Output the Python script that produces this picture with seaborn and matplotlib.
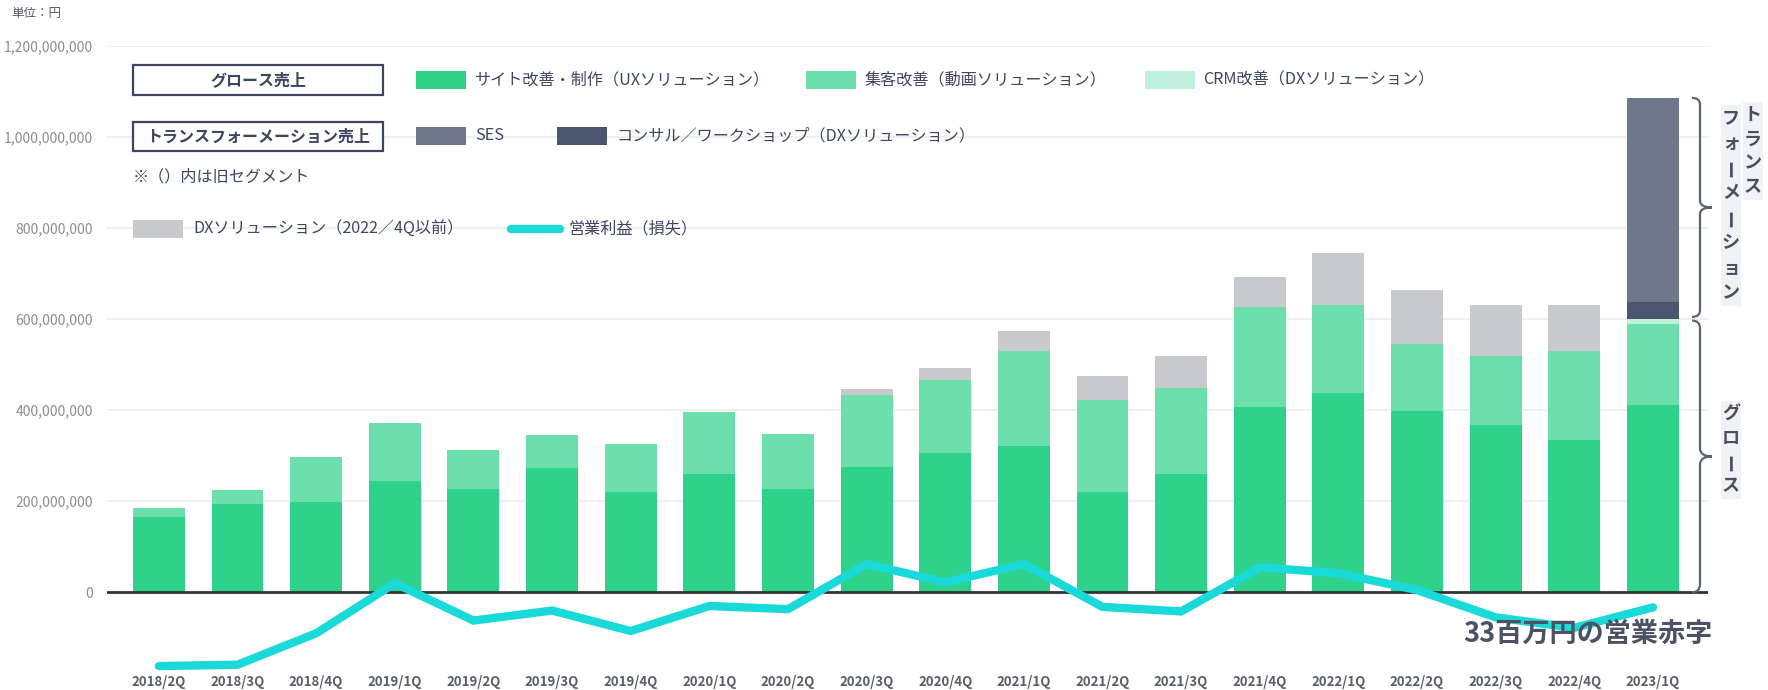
import numpy as np
import pandas as pd
import matplotlib
matplotlib.use("Agg")
import matplotlib.pyplot as plt
import seaborn as sns
from matplotlib.patches import Rectangle
from matplotlib.path import Path
from matplotlib.patches import PathPatch
import matplotlib.transforms as mtransforms

# ---------------- data (yen, millions) ----------------
quarters = ["2018/2Q", "2018/3Q", "2018/4Q", "2019/1Q", "2019/2Q", "2019/3Q", "2019/4Q",
            "2020/1Q", "2020/2Q", "2020/3Q", "2020/4Q", "2021/1Q", "2021/2Q", "2021/3Q",
            "2021/4Q", "2022/1Q", "2022/2Q", "2022/3Q", "2022/4Q", "2023/1Q"]
ux_site = [166, 193, 198, 245, 228, 273, 220, 260, 228, 275, 305, 322, 220, 260,
           407, 438, 398, 367, 335, 411]
video = [20, 32, 99, 127, 84, 72, 105, 135, 119, 159, 162, 207, 202, 189,
         219, 194, 147, 151, 194, 179]
crm = [0, 0, 0, 0, 0, 0, 0, 0, 0, 0, 0, 0, 0, 0, 0, 0, 0, 0, 0, 11]
dx_old = [0, 0, 0, 0, 0, 0, 0, 0, 0, 12, 26, 44, 54, 71, 66, 114, 118, 113, 102, 0]
consult = [0] * 19 + [36]
ses = [0] * 19 + [449]
op_profit = [-162, -159, -90, 20, -62, -40, -85, -30, -37, 62, 22, 62, -32, -42,
             55, 42, 5, -55, -78, -33]

legend_row1 = ["サイト改善・制作（UXソリューション）", "集客改善（動画ソリューション）", "CRM改善（DXソリューション）"]
legend_row2 = ["SES", "コンサル／ワークショップ（DXソリューション）"]
legend_dx = "DXソリューション（2022／4Q以前）"
legend_op = "営業利益（損失）"
box1 = "グロース売上"
box2 = "トランスフォーメーション売上"
note = "※（）内は旧セグメント"
unit = "単位：円"
annot = "33百万円の営業赤字"
yticks = [0, 200_000_000, 400_000_000, 600_000_000, 800_000_000, 1_000_000_000, 1_200_000_000]

# ---------------- style ----------------
C_UX = "#2ed28b"
C_VID = "#6ddfad"
C_CRM = "#bff0d9"
C_DX = "#c8c9cd"
C_SES = "#6f778a"
C_CON = "#4b556e"
C_LINE = "#19d9d9"
C_TXT = "#3d4660"

sns.set_style("white")
plt.rcParams['font.family'] = ['Noto Sans CJK JP', 'DejaVu Sans']

M = 1_000_000
df = pd.DataFrame({"q": quarters,
                   "ux": np.array(ux_site) * M, "vid": np.array(video) * M,
                   "crm": np.array(crm) * M, "dx": np.array(dx_old) * M,
                   "con": np.array(consult) * M, "ses": np.array(ses) * M,
                   "op": np.array(op_profit) * M})
df["c1"] = df["ux"]
df["c2"] = df["c1"] + df["vid"]
df["c3"] = df["c2"] + df["crm"]
df["c4"] = df["c3"] + df["dx"]
df["c5"] = df["c4"] + df["con"]
df["c6"] = df["c5"] + df["ses"]

W, H = 1768, 690
fig = plt.figure(figsize=(W / 100, H / 100), dpi=100)
def fx(px): return px / W
def fy(py): return 1 - py / H

ax_l, ax_r, ax_t, ax_b = 107, 1708, 46, 672
ax = fig.add_axes([fx(ax_l), fy(ax_b), fx(ax_r - ax_l), (ax_b - ax_t) / H])

for col, c in [("c6", C_SES), ("c5", C_CON), ("c4", C_DX), ("c3", C_CRM), ("c2", C_VID), ("c1", C_UX)]:
    sns.barplot(data=df, x="q", y=col, color=c, saturation=1, width=0.66,
                errorbar=None, ax=ax, zorder=2, linewidth=0)

ax.axhline(0, color="#333333", lw=2, zorder=3)
sns.lineplot(x=np.arange(len(quarters)), y=df["op"], color=C_LINE, lw=6, ax=ax,
             zorder=4, solid_joinstyle="miter")

ax.set_ylim(-175 * M, 1200 * M)
ax.set_xlim(-0.66, len(quarters) - 1 + 0.70)
ax.set_yticks(yticks)
ax.set_yticklabels([f"{v:,}" for v in yticks], fontsize=10, color="#8a8d94")
ax.set_xticks(np.arange(len(quarters)))
ax.set_xticklabels(quarters, fontsize=9.5, fontweight="bold", color="#5a5e68")
ax.tick_params(axis="both", length=0)
ax.tick_params(axis="x", pad=2)
ax.tick_params(axis="y", pad=10)
ax.set_xlabel("")
ax.set_ylabel("")
ax.yaxis.grid(True, color="#eeeeee", lw=1.3, zorder=0)
ax.set_axisbelow(True)
for s in ax.spines.values():
    s.set_visible(False)

# ---------------- legend (figure coords) ----------------
def box(x0, y0, x1, y1, label):
    fig.patches.append(Rectangle((fx(x0), fy(y1)), fx(x1 - x0), (y1 - y0) / H,
                                 transform=fig.transFigure, facecolor="white",
                                 edgecolor=C_TXT, lw=1.6))
    fig.text(fx((x0 + x1) / 2), fy((y0 + y1) / 2), label, ha="center", va="center",
             fontsize=11.5, fontweight="bold", color=C_TXT)

def swatch(x0, yc, color, label, tx):
    fig.patches.append(Rectangle((fx(x0), fy(yc + 9)), fx(50), 18 / H,
                                 transform=fig.transFigure, facecolor=color, edgecolor="none"))
    fig.text(fx(tx), fy(yc), label, ha="left", va="center", fontsize=11.6, color=C_TXT)

box(133, 65, 383, 95, box1)
swatch(416, 80, C_UX, legend_row1[0], 475)
swatch(806, 80, C_VID, legend_row1[1], 865)
swatch(1145, 80, C_CRM, legend_row1[2], 1203)
box(133, 122, 383, 151, box2)
swatch(416, 136, C_SES, legend_row2[0], 475)
swatch(557, 136, C_CON, legend_row2[1], 616)
fig.text(fx(133), fy(177), note, ha="left", va="center", fontsize=11.6, color=C_TXT)
swatch(133, 229, C_DX, legend_dx, 193)
fig.lines.append(plt.Line2D([fx(511), fx(560)], [fy(229), fy(229)], transform=fig.transFigure,
                            color=C_LINE, lw=6))
fig.text(fx(569), fy(229), legend_op, ha="left", va="center", fontsize=11.6, color=C_TXT)

fig.text(fx(11), fy(14), unit, ha="left", va="center", fontsize=9, color="#555a66")

# ---------------- braces ----------------
def brace(y_lo, y_hi):
    trans = mtransforms.blended_transform_factory(fig.transFigure, ax.transData)
    xl, xm, xt = fx(1692), fx(1700), fx(1712)
    ym = (y_lo + y_hi) / 2
    r = (y_hi - y_lo) * 0.03
    verts = [(xl, y_hi), (xm, y_hi), (xm, y_hi - r),
             (xm, ym + r), (xm, ym), (xt, ym),
             (xm, ym), (xm, ym - r),
             (xm, y_lo + r), (xm, y_lo), (xl, y_lo)]
    codes = [Path.MOVETO, Path.CURVE3, Path.CURVE3,
             Path.LINETO, Path.CURVE3, Path.CURVE3,
             Path.CURVE3, Path.CURVE3,
             Path.LINETO, Path.CURVE3, Path.CURVE3]
    p = PathPatch(Path(verts, codes), transform=trans, facecolor="none",
                  edgecolor="#5a6275", lw=1.6, clip_on=False)
    fig.patches.append(p)

top_tr = df["c6"].iloc[-1]
top_gr = df["c3"].iloc[-1]
brace(top_gr + 4 * M, top_tr)
brace(0, top_gr - 4 * M)

def vtext(xc, y0, text, step=24):
    n = len(text)
    fig.patches.append(Rectangle((fx(xc - 10), fy(y0 + step * (n - 1) + 13)), fx(20),
                                 (step * (n - 1) + 26) / H, transform=fig.transFigure,
                                 facecolor="#f1f2f5", edgecolor="none"))
    for i, ch in enumerate(text):
        rot = 90 if ch == "ー" else 0
        fig.text(fx(xc), fy(y0 + i * step), ch, ha="center", va="center", rotation=rot,
                 fontsize=13, fontweight="bold", color="#4a5060")

vtext(1753, 115, "トランス")
vtext(1731, 118, "フォーメーション", step=25)
vtext(1731, 414, "グロース")

fig.text(fx(1712), fy(634), annot, ha="right", va="center", fontsize=19.5,
         fontweight="bold", color="#4a5263")

fig.savefig("out.png", dpi=100)
